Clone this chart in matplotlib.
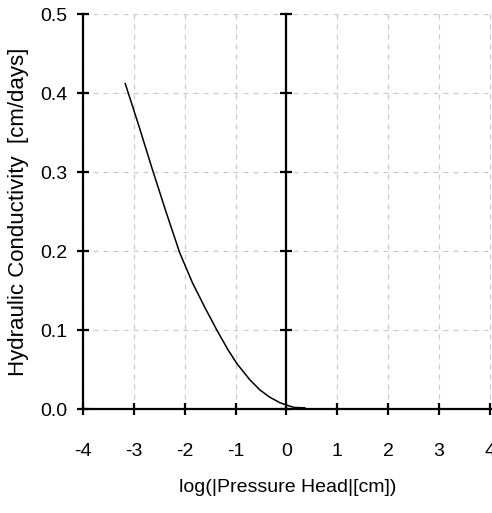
import matplotlib
matplotlib.use('Agg')
import matplotlib.pyplot as plt

# values
log_head = [-3.17, -2.90, -2.64, -2.37, -2.10, -1.85, -1.60, -1.37, -1.15, -0.97,
            -0.72, -0.52, -0.33, -0.13, 0.0, 0.15, 0.36]
conductivity = [0.412, 0.358, 0.304, 0.250, 0.198, 0.160, 0.128, 0.100, 0.075, 0.057,
                0.037, 0.024, 0.015, 0.008, 0.005, 0.002, 0.0015]

x_ticks = [-4, -3, -2, -1, 0, 1, 2, 3, 4]
y_ticks = [0.0, 0.1, 0.2, 0.3, 0.4, 0.5]
y_tick_labels = ['0.0', '0.1', '0.2', '0.3', '0.4', '0.5']

plt.rcParams['font.family'] = ['Liberation Sans', 'DejaVu Sans']

fig = plt.figure(figsize=(4.92, 5.13), dpi=100)
ax = fig.add_axes([0.1687, 0.2027, 0.8313, 0.77])

ax.plot(log_head, conductivity, color='black', lw=1.1)

ax.set_xlim(-4, 4.04)
ax.set_ylim(0, 0.5)
ax.set_xticks(x_ticks)
ax.set_xticklabels([str(t) for t in x_ticks])
ax.set_yticks(y_ticks)
ax.set_yticklabels(y_tick_labels)

ax.grid(True, color='#cccccc', linestyle=(0, (4, 4)), lw=0.9)
ax.spines['top'].set_visible(False)
ax.spines['right'].set_visible(False)
for s in ['left', 'bottom']:
    ax.spines[s].set_linewidth(1.6)
ax.tick_params(direction='inout', length=9, width=1.6, labelsize=14)
ax.tick_params(axis='x', pad=20)
ax.tick_params(axis='y', pad=7)

# second vertical axis drawn at log = 0
ax2 = ax.twinx()
ax2.set_ylim(0, 0.5)
ax2.set_yticks(y_ticks)
ax2.set_yticklabels([])
for s in ['top', 'left', 'bottom']:
    ax2.spines[s].set_visible(False)
ax2.spines['right'].set_position(('data', 0))
ax2.spines['right'].set_linewidth(1.6)
ax2.tick_params(direction='inout', length=9, width=1.6)

ax.set_xlabel('log(|Pressure Head|[cm])', fontsize=14, labelpad=14)
ax.set_ylabel('Hydraulic Conductivity  [cm/days]', fontsize=16, labelpad=8)

fig.savefig('out.png', dpi=100, facecolor='white')
